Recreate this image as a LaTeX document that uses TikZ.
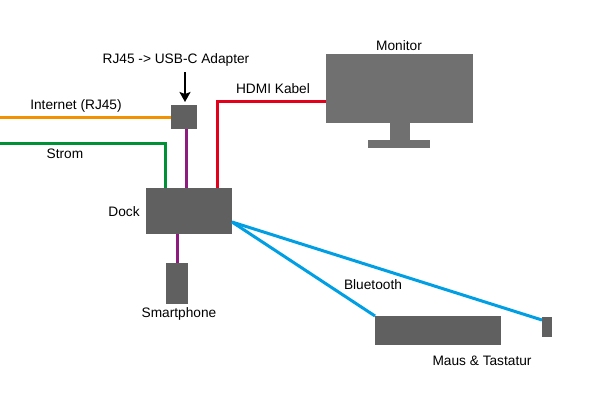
\documentclass[tikz,border=0pt]{standalone}
\usepackage{fontspec}
\setmainfont{Liberation Sans}
\usetikzlibrary{arrows.meta}
\definecolor{boxgray}{HTML}{606060}
\definecolor{mongray}{HTML}{707070}
\definecolor{cOrange}{HTML}{F39200}
\definecolor{cGreen}{HTML}{009035}
\definecolor{cPurple}{HTML}{8E1C7E}
\definecolor{cRed}{HTML}{E2001A}
\definecolor{cBlue}{HTML}{009FE3}
\tikzset{
  box/.style={fill=boxgray, draw=none, inner sep=0pt, outer sep=0pt},
  monbox/.style={fill=mongray, draw=none, inner sep=0pt, outer sep=0pt},
  cable/.style={line width=3pt},
  lbl/.style={font=\fontsize{13.7}{16}\selectfont, inner sep=0pt}
}
\begin{document}
\begin{tikzpicture}[x=1pt, y=-1pt]
\useasboundingbox (0,0) rectangle (589,402);
% boxes
\node[box, minimum width=86pt, minimum height=46pt] (dock) at (189,211) {};
\node[box, minimum width=26pt, minimum height=24pt] (adapter) at (184,117) {};
\node[box, minimum width=22pt, minimum height=41pt] (phone) at (177,283.5) {};
\node[box, minimum width=126pt, minimum height=29pt] (kbd) at (438,330.5) {};
\node[box, minimum width=10pt, minimum height=20pt] (mouse) at (547,327) {};
\node[monbox, minimum width=147pt, minimum height=69pt] (monitor) at (399.5,88.5) {};
\node[monbox, minimum width=20pt, minimum height=17pt] (neck) at (400,131.5) {};
\node[monbox, minimum width=62pt, minimum height=8pt] (base) at (399,144) {};
% free ends
\coordinate (inL) at (0,117);
\coordinate (stL) at (0,143);
\coordinate (arrTop) at (185,72);
% cables
\draw[cable, cOrange] (inL) -- (adapter.west);
\draw[cable, cGreen] (stL) -| ([xshift=19pt]dock.north west);
\draw[cable, cPurple] ([xshift=2pt]adapter.south) -- ([xshift=2pt]adapter.south |- dock.north);
\draw[cable, cRed] ([xshift=-15pt]dock.north east) |- ([yshift=-12.5pt]monitor.west);
\draw[cable, cPurple] ([xshift=-12pt]dock.south) -- ([xshift=-12pt]dock.south |- phone.north);
\draw[cable, cBlue] ([yshift=-11pt]dock.east) -- (kbd.north west);
\draw[cable, cBlue] ([yshift=-11pt]dock.east) -- ([yshift=-3pt]mouse.north west);
\draw[line width=2.2pt, -{Stealth[length=10pt, width=11pt, inset=2pt]}] (arrTop) -- ([yshift=3pt]adapter.north -| arrTop);
% labels
\node[lbl] (tAdapter) at (176,60) {RJ45 -> USB-C Adapter};
\node[lbl] (tInternet) at (76,106) {Internet (RJ45)};
\node[lbl] (tStrom) at (65,154) {Strom};
\node[lbl] (tHdmi) at (273,89) {HDMI Kabel};
\node[lbl] (tMonitor) at (399,46) {Monitor};
\node[lbl] (tDock) at (124,212) {Dock};
\node[lbl] (tPhone) at (179,314) {Smartphone};
\node[lbl] (tBt) at (373,285) {Bluetooth};
\node[lbl] (tMaus) at (482,361) {Maus \& Tastatur};
\end{tikzpicture}
\end{document}
